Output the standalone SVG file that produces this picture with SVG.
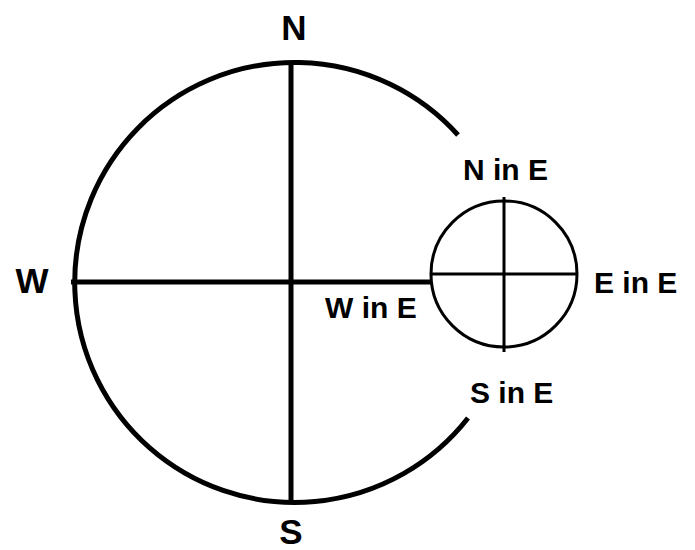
<svg xmlns="http://www.w3.org/2000/svg" width="695" height="550" viewBox="0 0 695 550">
<style>
.big{fill:none;stroke:#000;stroke-width:5}
.small{fill:none;stroke:#000;stroke-width:3}
.lbl{font-family:"Liberation Sans",Arial,sans-serif;font-weight:bold;fill:#000}
.main{font-size:35px;text-anchor:middle}
.sub{font-size:30px}
</style>
<rect width="695" height="550" fill="#fff"/>
<g id="earth">
<path class="big" d="M 458 135 A 220 220 0 1 0 468 418"/>
</g>
<g id="moon">
<circle class="small" cx="504" cy="274" r="73"/>
</g>
<g id="connectors">
<line class="big" x1="291" y1="61" x2="291" y2="500"/>
<line class="big" x1="71" y1="282" x2="432" y2="282"/>
<line class="small" x1="431" y1="274" x2="577" y2="274"/>
<line class="small" x1="504" y1="197" x2="504" y2="352"/>
</g>
<g id="labels">
<text class="lbl main" x="294" y="40">N</text>
<text class="lbl main" x="32" y="293">W</text>
<text class="lbl main" x="291" y="544">S</text>
<text class="lbl sub" x="463" y="180">N in E</text>
<text class="lbl sub" x="325" y="318">W in E</text>
<text class="lbl sub" x="594" y="293">E in E</text>
<text class="lbl sub" x="470" y="403">S in E</text>
</g>
</svg>
